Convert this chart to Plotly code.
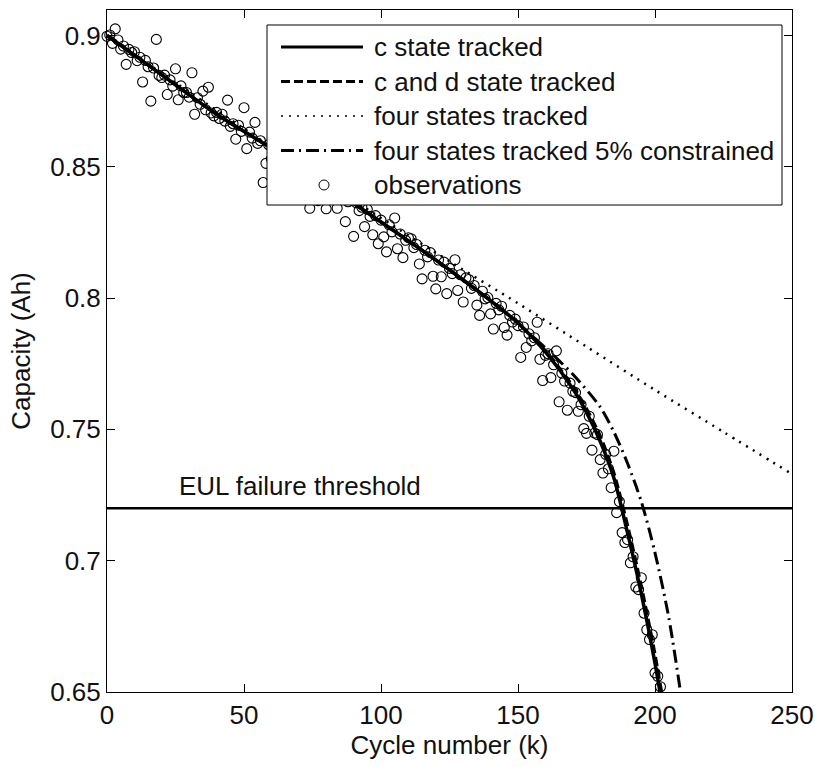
import plotly.graph_objects as go

# Measured capacity (Ah) for each thousand cycles
cycles_obs = list(range(0, 203))
capacity_obs = [
    0.8997, 0.9002, 0.897, 0.9025, 0.8983, 0.8948, 0.896, 0.889, 0.8947, 0.8935,
    0.8938, 0.8904, 0.8917, 0.8823, 0.8905, 0.8881, 0.875, 0.8876, 0.8985, 0.8848,
    0.884, 0.8849, 0.8775, 0.8831, 0.8807, 0.8873, 0.8755, 0.8808, 0.8783, 0.8783,
    0.8765, 0.8858, 0.870, 0.8763, 0.8738, 0.8788, 0.8717, 0.8803, 0.8705, 0.8694,
    0.8707, 0.8684, 0.870, 0.8674, 0.8754, 0.8654, 0.8664, 0.8605, 0.8658, 0.8635,
    0.8725, 0.8569, 0.8632, 0.8609, 0.8669, 0.8589, 0.8599, 0.844, 0.8513, 0.8584,
    0.853, 0.8593, 0.8496, 0.8559, 0.8512, 0.8575, 0.8478, 0.8541, 0.8414, 0.8537,
    0.849, 0.8506, 0.8416, 0.8486, 0.8342, 0.8452, 0.8468, 0.8371, 0.8447, 0.8387,
    0.834, 0.843, 0.8403, 0.8459, 0.8342, 0.8392, 0.8398, 0.8291, 0.8367, 0.838,
    0.8235, 0.8363, 0.8333, 0.8346, 0.8272, 0.8338, 0.8311, 0.8241, 0.8314, 0.8207,
    0.8297, 0.8233, 0.8176, 0.8279, 0.8252, 0.8305, 0.8188, 0.8244, 0.8154, 0.822,
    0.823, 0.8226, 0.8192, 0.8204, 0.813, 0.8073, 0.8182, 0.8157, 0.8173, 0.8083,
    0.8035, 0.8145, 0.8081, 0.8137, 0.8017, 0.8113, 0.8093, 0.8146, 0.8029, 0.8089,
    0.7985, 0.8077, 0.8071, 0.8037, 0.8048, 0.7973, 0.7934, 0.8026, 0.7997, 0.8002,
    0.794, 0.7882, 0.798, 0.7955, 0.7969, 0.7888, 0.7859, 0.7934, 0.7909, 0.792,
    0.7895, 0.7774, 0.789, 0.7812, 0.7864, 0.7837, 0.7849, 0.7908, 0.7767, 0.7686,
    0.7782, 0.7788, 0.7697, 0.7746, 0.7799, 0.7605, 0.7714, 0.7684, 0.7573, 0.7676,
    0.7645, 0.764, 0.7569, 0.7594, 0.7503, 0.7485, 0.755, 0.7421, 0.7486, 0.748,
    0.7385, 0.7334, 0.7405, 0.735, 0.7278, 0.7417, 0.7183, 0.7225, 0.7107, 0.7069,
    0.708, 0.6992, 0.7015, 0.690, 0.689, 0.6935, 0.680, 0.6737, 0.670, 0.6718,
    0.6573, 0.656, 0.652,
]

# Model predictions
c_state_k = [0, 20, 40, 60, 80, 100, 120, 140, 150, 160, 170, 175, 180, 185, 190, 195, 200, 205]
c_state_v = [0.900, 0.885, 0.870, 0.857, 0.843, 0.829, 0.8145, 0.799, 0.7905, 0.7795,
             0.7655, 0.7565, 0.7455, 0.7315, 0.7105, 0.6875, 0.661, 0.630]

cd_state_k = [0, 20, 40, 60, 80, 100, 120, 140, 150, 160, 170, 175, 180, 185, 190, 195, 200, 205]
cd_state_v = [0.900, 0.885, 0.870, 0.857, 0.843, 0.829, 0.8145, 0.799, 0.7905, 0.780,
              0.7665, 0.758, 0.7475, 0.7335, 0.7135, 0.6905, 0.6645, 0.634]

four_state_k = [0, 25, 50, 75, 100, 125, 150, 175, 200, 225, 250]
four_state_v = [0.900, 0.882, 0.8645, 0.847, 0.8305, 0.814, 0.798, 0.7815, 0.765, 0.749, 0.733]

four_5pct_k = [0, 20, 40, 60, 80, 100, 120, 140, 150, 160, 170, 180, 185, 190, 195, 200, 205, 210, 213]
four_5pct_v = [0.900, 0.885, 0.870, 0.857, 0.843, 0.829, 0.8145, 0.799, 0.7905, 0.781,
               0.771, 0.7585, 0.749, 0.737, 0.7225, 0.703, 0.6785, 0.645, 0.622]

threshold_k = [0, 250]
threshold_v = [0.72, 0.72]

x_ticks = [0, 50, 100, 150, 200, 250]
y_ticks = [0.65, 0.7, 0.75, 0.8, 0.85, 0.9]
y_tick_text = ["0.65", "0.7", "0.75", "0.8", "0.85", "0.9"]

legend_names = [
    "c state tracked",
    "c and d state tracked",
    "four states tracked",
    "four states tracked 5% constrained",
    "observations",
]

FONT = "Liberation Sans, Arial, Helvetica, sans-serif"
FS = 26
INK = "#111111"

fig = go.Figure()

fig.add_trace(go.Scatter(
    x=cycles_obs, y=capacity_obs, mode="markers", name=legend_names[4],
    marker=dict(symbol="circle-open", size=10, color="black", line=dict(width=1.1, color="black")),
    cliponaxis=False, showlegend=False,
))

line_styles = [
    (c_state_k, c_state_v, "solid", 3.5),
    (cd_state_k, cd_state_v, "9px,4px", 3),
    (four_state_k, four_state_v, "2px,6px", 2.5),
    (four_5pct_k, four_5pct_v, "13px,5px,2px,5px", 3),
]
for (kx, vy, dash, w), name in zip(line_styles, legend_names[:4]):
    fig.add_trace(go.Scatter(
        x=kx, y=vy, mode="lines", name=name,
        line=dict(color="black", width=w, dash=dash, shape="spline", smoothing=0.8),
        showlegend=False,
    ))

fig.add_trace(go.Scatter(
    x=threshold_k, y=threshold_v, mode="lines", name="EUL failure threshold",
    line=dict(color="black", width=2.5), showlegend=False,
))

fig.add_annotation(
    x=25.4, y=0.7285, xref="x", yref="y", text="EUL failure threshold",
    showarrow=False, xanchor="left", yanchor="middle",
    font=dict(family=FONT, size=FS, color=INK),
)

# Boxed key in the upper right of the axes
L, T, W, H = 107, 10, 685, 682


def px_x(p):
    return (p - L) / W


def px_y(p):
    return (T + H - p) / H


shapes = [dict(
    type="rect", xref="paper", yref="paper",
    x0=px_x(267), x1=px_x(782), y0=px_y(205), y1=px_y(25),
    fillcolor="white", line=dict(color="black", width=1), layer="above",
)]
row_y = [47, 81.5, 116, 150.5, 185]
legend_line_w = [3, 3, 1.5, 3]
for i, (kx, vy, dash, w) in enumerate(line_styles):
    shapes.append(dict(
        type="line", xref="paper", yref="paper",
        x0=px_x(281), x1=px_x(363), y0=px_y(row_y[i]), y1=px_y(row_y[i]),
        line=dict(color="black", width=legend_line_w[i], dash=dash), layer="above",
    ))
shapes.append(dict(
    type="circle", xref="paper", yref="paper", xsizemode="pixel", ysizemode="pixel",
    xanchor=px_x(324), yanchor=px_y(row_y[4]), x0=-5, x1=5, y0=-5, y1=5,
    line=dict(color="black", width=1), fillcolor="rgba(0,0,0,0)", layer="above",
))
for i, name in enumerate(legend_names):
    fig.add_annotation(
        x=px_x(372), y=px_y(row_y[i]), xref="paper", yref="paper", text=name,
        showarrow=False, xanchor="left", yanchor="middle",
        font=dict(family=FONT, size=FS, color=INK),
    )

axis_common = dict(
    showline=True, linecolor="black", linewidth=1, mirror="ticks",
    ticks="inside", ticklen=8, tickwidth=1, tickcolor="black",
    showgrid=False, zeroline=False, automargin=False,
    tickfont=dict(family=FONT, size=FS, color=INK),
)

fig.update_layout(
    template="none",
    width=815, height=767, autosize=False,
    margin=dict(l=L, r=815 - L - W, t=T, b=767 - T - H, pad=0, autoexpand=False),
    paper_bgcolor="white", plot_bgcolor="white",
    font=dict(family=FONT, size=FS, color=INK),
    shapes=shapes,
    xaxis=dict(
        range=[0, 250], tickvals=x_ticks, ticktext=[str(v) for v in x_ticks],
        title=dict(text="Cycle number (k)", font=dict(family=FONT, size=FS, color=INK), standoff=6),
        **axis_common,
    ),
    yaxis=dict(
        range=[0.65, 0.9097], tickvals=y_ticks, ticktext=y_tick_text,
        title=dict(text="Capacity (Ah)", font=dict(family=FONT, size=FS, color=INK), standoff=12),
        **axis_common,
    ),
)

fig.write_html("out.html")
